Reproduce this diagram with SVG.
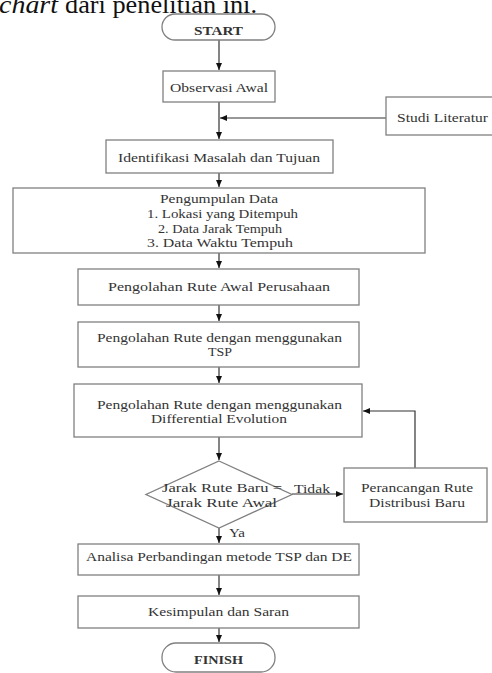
<svg xmlns="http://www.w3.org/2000/svg" width="492" height="673" viewBox="0 0 492 673">
<defs>
<marker id="ah" markerWidth="7" markerHeight="6" refX="7" refY="3" orient="auto" markerUnits="userSpaceOnUse">
<path d="M0,0 L7,3 L0,6 Z" fill="#111"/>
</marker>
<style>
.box{fill:#fff;stroke:#808080;stroke-width:1.3}
.t{font-family:"Liberation Serif","Times New Roman",serif;font-size:12px;fill:#333;text-anchor:middle}
.tb{font-family:"Liberation Serif","Times New Roman",serif;font-size:12px;fill:#333;font-weight:bold;text-anchor:middle}
.lbl{font-family:"Liberation Serif","Times New Roman",serif;font-size:12px;fill:#333}
.c{fill:none;stroke:#333;stroke-width:1.2}
</style>
</defs>
<rect width="492" height="673" fill="#fff"/>
<text x="-1" y="13" font-family="'Liberation Serif','Times New Roman',serif" font-size="25" fill="#111" font-style="italic" textLength="59" lengthAdjust="spacingAndGlyphs">chart</text>
<text x="65" y="13" font-family="'Liberation Serif','Times New Roman',serif" font-size="25" fill="#111" textLength="192" lengthAdjust="spacingAndGlyphs">dari penelitian ini.</text>

<g id="connectors">
<line class="c" x1="219" y1="40" x2="219" y2="70" marker-end="url(#ah)"/>
<line class="c" x1="219" y1="102" x2="219" y2="139" marker-end="url(#ah)"/>
<line class="c" x1="386" y1="118" x2="220" y2="118" marker-end="url(#ah)"/>
<line class="c" x1="219" y1="173" x2="219" y2="187" marker-end="url(#ah)"/>
<line class="c" x1="219" y1="253" x2="219" y2="268" marker-end="url(#ah)"/>
<line class="c" x1="219" y1="305" x2="219" y2="321" marker-end="url(#ah)"/>
<line class="c" x1="219" y1="367" x2="219" y2="383" marker-end="url(#ah)"/>
<line class="c" x1="219" y1="437" x2="219" y2="460" marker-end="url(#ah)"/>
<line class="c" x1="292" y1="494" x2="343" y2="494" marker-end="url(#ah)"/>
<polyline class="c" points="415,468 415,411 363,411" marker-end="url(#ah)"/>
<line class="c" x1="219" y1="528" x2="219" y2="543" marker-end="url(#ah)"/>
<line class="c" x1="219" y1="575" x2="219" y2="595" marker-end="url(#ah)"/>
<line class="c" x1="219" y1="628" x2="219" y2="642" marker-end="url(#ah)"/>
<text class="lbl" x="294" y="493" textLength="36" lengthAdjust="spacingAndGlyphs">Tidak</text>
<text class="lbl" x="229" y="537" textLength="16" lengthAdjust="spacingAndGlyphs">Ya</text>
</g>

<g id="start">
<rect class="box" x="162" y="14" width="113" height="26" rx="13"/>
<text class="tb" x="218.5" y="35" textLength="49" lengthAdjust="spacingAndGlyphs">START</text>
</g>
<g id="observasi">
<rect class="box" x="163" y="71" width="112" height="31"/>
<text class="t" x="219" y="92" textLength="98" lengthAdjust="spacingAndGlyphs">Observasi Awal</text>
</g>
<g id="studi">
<rect class="box" x="386" y="97" width="110" height="38"/>
<text class="t" x="442.5" y="122" textLength="91" lengthAdjust="spacingAndGlyphs">Studi Literatur</text>
</g>
<g id="identifikasi">
<rect class="box" x="106" y="140" width="227" height="33"/>
<text class="t" x="219" y="162" textLength="202" lengthAdjust="spacingAndGlyphs">Identifikasi Masalah dan Tujuan</text>
</g>
<g id="pengumpulan">
<rect class="box" x="13" y="188" width="412" height="65"/>
<text class="t" x="219" y="203" textLength="118" lengthAdjust="spacingAndGlyphs">Pengumpulan Data</text>
<text class="t" x="222.5" y="218" textLength="151" lengthAdjust="spacingAndGlyphs">1. Lokasi yang Ditempuh</text>
<text class="t" x="220" y="233" textLength="124" lengthAdjust="spacingAndGlyphs">2. Data Jarak Tempuh</text>
<text class="t" x="220" y="247" textLength="146" lengthAdjust="spacingAndGlyphs">3. Data Waktu Tempuh</text>
</g>
<g id="rute-awal">
<rect class="box" x="78" y="269" width="281" height="36"/>
<text class="t" x="219" y="291" textLength="222" lengthAdjust="spacingAndGlyphs">Pengolahan Rute Awal  Perusahaan</text>
</g>
<g id="rute-tsp">
<rect class="box" x="78" y="322" width="281" height="45"/>
<text class="t" x="219.5" y="342" textLength="245" lengthAdjust="spacingAndGlyphs">Pengolahan Rute dengan menggunakan</text>
<text class="t" x="220" y="356" textLength="24" lengthAdjust="spacingAndGlyphs">TSP</text>
</g>
<g id="rute-de">
<rect class="box" x="74" y="384" width="288" height="53"/>
<text class="t" x="219.5" y="409" textLength="245" lengthAdjust="spacingAndGlyphs">Pengolahan Rute dengan menggunakan</text>
<text class="t" x="219" y="423" textLength="136" lengthAdjust="spacingAndGlyphs">Differential Evolution</text>
</g>
<g id="keputusan">
<polygon class="box" points="219,461 292,494.5 219,528 146,494.5"/>
<text class="t" x="222" y="492" textLength="120" lengthAdjust="spacingAndGlyphs">Jarak Rute Baru =</text>
<text class="t" x="221.5" y="507" textLength="111" lengthAdjust="spacingAndGlyphs">Jarak Rute Awal</text>
</g>
<g id="perancangan">
<rect class="box" x="344" y="468" width="143" height="54"/>
<text class="t" x="417" y="492" textLength="112" lengthAdjust="spacingAndGlyphs">Perancangan Rute</text>
<text class="t" x="417" y="507" textLength="96" lengthAdjust="spacingAndGlyphs">Distribusi Baru</text>
</g>
<g id="analisa">
<rect class="box" x="78" y="544" width="281" height="31"/>
<text class="t" x="219" y="561" textLength="266" lengthAdjust="spacingAndGlyphs">Analisa Perbandingan metode TSP dan DE</text>
</g>
<g id="kesimpulan">
<rect class="box" x="78" y="596" width="281" height="32"/>
<text class="t" x="218.5" y="616" textLength="141" lengthAdjust="spacingAndGlyphs">Kesimpulan dan Saran</text>
</g>
<g id="finish">
<rect class="box" x="162" y="643" width="113" height="29" rx="14"/>
<text class="tb" x="218.5" y="664" textLength="49" lengthAdjust="spacingAndGlyphs">FINISH</text>
</g>
</svg>
